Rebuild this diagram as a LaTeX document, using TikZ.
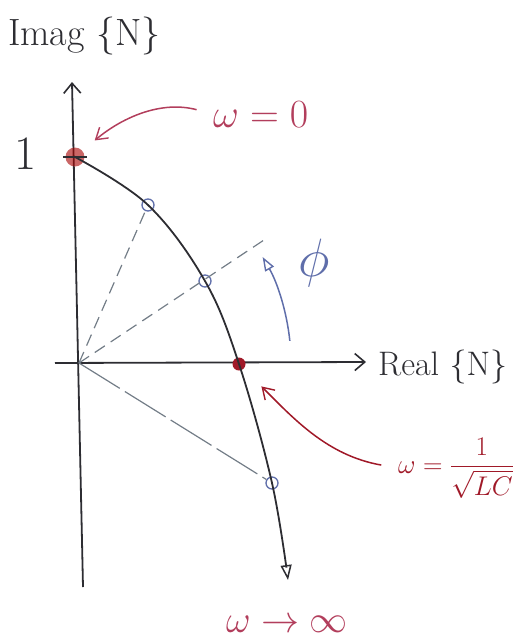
\RequirePackage{fix-cm}
\documentclass[tikz,border=0pt]{standalone}
\usepackage{amsmath,amssymb}
\usepackage{tikz}
\usetikzlibrary{arrows.meta}

\definecolor{inkblack}{RGB}{45,45,50}
\definecolor{inkred}{RGB}{160,25,40}
\definecolor{inkpink}{RGB}{178,62,92}
\definecolor{inkblue}{RGB}{95,110,170}
\definecolor{inkgray}{RGB}{115,125,135}

\begin{document}
\begin{tikzpicture}[
        x=1pt, y=1pt,
        axis/.style={draw=inkblack, line width=1.8pt, -{Straight Barb[length=10pt,width=17pt,line width=1.6pt]}},
        locus/.style={draw=inkblack, line width=1.8pt, -{Triangle[open,length=15pt,width=11pt,line width=1.5pt]}},
        phasor/.style={draw=inkgray, line width=1.2pt, dash pattern=on 12pt off 7pt},
        phasorlong/.style={draw=inkgray, line width=1.2pt, dash pattern=on 48pt off 6pt},
        pt/.style={circle, draw=inkblue, line width=1.3pt, minimum size=12pt, inner sep=0pt},
        redpt/.style={circle, fill=inkred, minimum size=13pt, inner sep=0pt},
        startpt/.style={circle, fill=red!65!black, fill opacity=0.6, minimum size=19pt, inner sep=0pt},
        lbl/.style={inner sep=0pt, text=inkblack, font=\fontsize{38}{40}\selectfont},
        redlbl/.style={inner sep=0pt, text=inkred},
        redarrow/.style={draw=inkred, line width=1.5pt, -{Straight Barb[length=11pt,width=14pt,line width=1.4pt]}},
        phiarrow/.style={draw=inkblue, line width=1.5pt, -{Triangle[open,length=14pt,width=10pt,line width=1.4pt]}}
      ]

      \useasboundingbox (0,0) rectangle (515,-638);

      % Axes
      \coordinate (O) at (79,-363);
      \coordinate (ybot) at (83,-587);
      \coordinate (ytop) at (72,-82);
      \coordinate (xleft) at (55,-363);
      \coordinate (xright) at (366,-362);
      \draw[axis] (ybot) -- (ytop);
      \draw[axis] (xleft) -- (xright);

      % Axis labels
      \node[lbl, anchor=base west] (imag) at (8,-45) {Imag \{N\}};
      \node[lbl, anchor=base west, font=\fontsize{34}{36}\selectfont] (real) at (378,-375) {Real \{N\}};
      \node[lbl, anchor=base, font=\fontsize{48}{50}\selectfont] (one) at (26,-169) {1};

      % Points on the locus
      \node[startpt] (w0) at (75,-157) {};
      \node[pt] (p1) at (148,-205) {};
      \node[pt] (p2) at (205,-281) {};
      \node[redpt] (wr) at (239,-364) {};
      \node[pt] (p4) at (272,-483) {};
      \coordinate (winf) at (288,-580);
      \draw[inkblack, line width=1.8pt] ([xshift=-12pt]w0.center) -- ([xshift=12pt]w0.center);

      % Locus
      \draw[locus] plot[smooth, tension=0.6] coordinates {(w0.center) (p1.center) (p2.center) (wr.center) (p4.center) (winf)};

      % Phasors
      \coordinate (ph2) at (267,-238);
      \draw[phasor] (O) -- (p1);
      \draw[phasor] (O) -- (ph2);
      \draw[phasorlong] (O) -- (p4);

      % Angle
      \node[text=inkblue, inner sep=0pt, font=\fontsize{54}{56}\selectfont] (phi) at (314,-263) {$\phi$};
      \draw[phiarrow] (O) ++(6:212) arc[start angle=6, end angle=30, radius=212];

      % Frequency labels
      \node[redlbl, text=inkpink, anchor=base west, font=\fontsize{40}{42}\selectfont] (w0lbl) at (213,-127) {$\omega = 0$};
      \node[redlbl, anchor=west, font=\fontsize{27}{29}\selectfont] (wrlbl) at (398,-468) {$\omega = \dfrac{1}{\sqrt{LC}}$};
      \node[redlbl, text=inkpink, anchor=base west, font=\fontsize{38}{40}\selectfont] (winflbl) at (226,-632) {$\omega \rightarrow \infty$};

      \draw[redarrow, draw=inkpink, shorten <=17pt, shorten >=16pt] (w0lbl.west) to[out=165, in=40] (w0);
      \draw[redarrow, shorten <=17pt, shorten >=25pt] (wrlbl.west) to[out=170, in=-45] (wr);

    \end{tikzpicture}
\end{document}
